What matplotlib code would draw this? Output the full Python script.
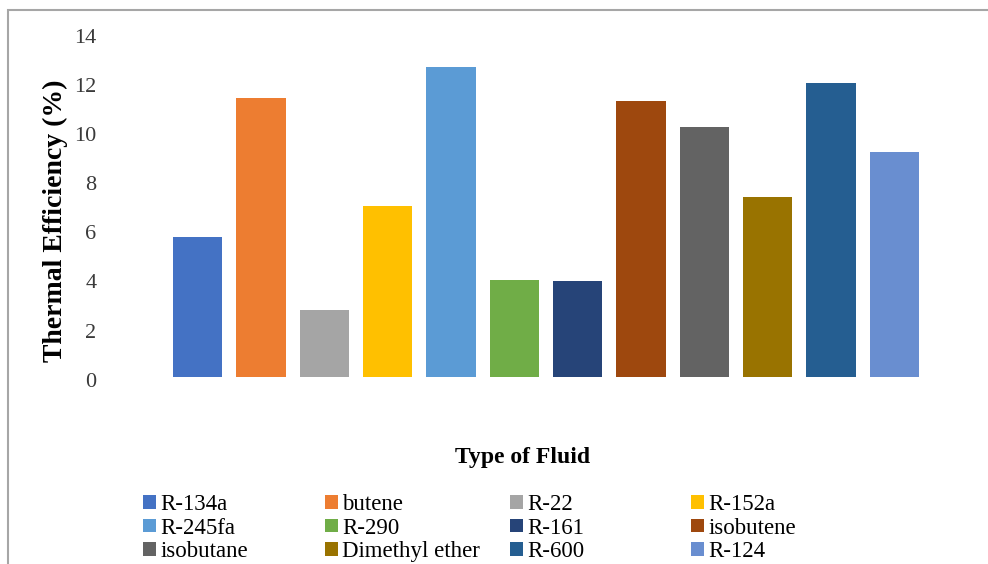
import matplotlib
matplotlib.use("Agg")
import matplotlib.pyplot as plt
from matplotlib.patches import Rectangle
from matplotlib.transforms import ScaledTranslation

plt.rcParams['font.family'] = ['Liberation Serif', 'DejaVu Serif']

fluids = ["R-134a", "butene", "R-22", "R-152a",
          "R-245fa", "R-290", "R-161", "isobutene",
          "isobutane", "Dimethyl ether", "R-600", "R-124"]
efficiency = [5.68, 11.34, 2.72, 6.95,
              12.63, 3.94, 3.89, 11.24,
              10.18, 7.33, 11.98, 9.16]
colors = ["#4472C4", "#ED7D31", "#A5A5A5", "#FFC000",
          "#5B9BD5", "#70AD47", "#264478", "#9E480E",
          "#636363", "#997300", "#255E91", "#698ED0"]
yticks = [0, 2, 4, 6, 8, 10, 12, 14]

fig = plt.figure(figsize=(9.88, 5.64), dpi=100)
ax = fig.add_axes([166 / 988, 1 - 376.7 / 564, 760 / 988, (376.7 - 33) / 564])

bars = []
for i, (name, val, col) in enumerate(zip(fluids, efficiency, colors)):
    b = ax.bar(i, val, width=0.78, color=col, label=name, linewidth=0)
    bars.append(b)

ax.set_xlim(-0.5, len(fluids) - 0.5)
ax.set_ylim(0, 14)
ax.set_yticks(yticks)
ax.set_yticklabels([str(t) for t in yticks], fontsize=16, color="#3a3a3a")
ax.tick_params(axis='y', length=0, pad=50)
ax.set_xticks([])
for s in ax.spines.values():
    s.set_visible(False)

# nudge tick labels slightly below their tick positions
shift = ScaledTranslation(0, -3 / 100, fig.dpi_scale_trans)
for lbl in ax.get_yticklabels():
    lbl.set_transform(lbl.get_transform() + shift)

fig.text(55 / 988, 1 - 221 / 564, "Thermal Efficiency (%)", rotation=90,
         ha='center', va='center', fontsize=20, fontweight='bold')
fig.text(523 / 988, 1 - 458 / 564, "Type of Fluid",
         ha='center', va='center', fontsize=17, fontweight='bold')

# Legend laid out as four equal-width columns, filled row by row
col_x = [143, 325, 510, 691]
for c in range(4):
    idx = [i for i in range(len(fluids)) if i % 4 == c]
    leg = fig.legend([bars[i] for i in idx], [fluids[i] for i in idx],
                     loc='upper left', bbox_to_anchor=(col_x[c] / 988, 1 - 494 / 564),
                     frameon=False, fontsize=16.5, handlelength=0.55, handleheight=0.55,
                     handletextpad=0.2, borderpad=0, borderaxespad=0,
                     labelspacing=0.11)

# Outer chart frame
fig.add_artist(Rectangle((8 / 988, -0.1), 1.2, 1.1 - 10 / 564,
                         transform=fig.transFigure, fill=False,
                         edgecolor="#A6A6A6", linewidth=1.5))

fig.savefig("out.png", dpi=100)
